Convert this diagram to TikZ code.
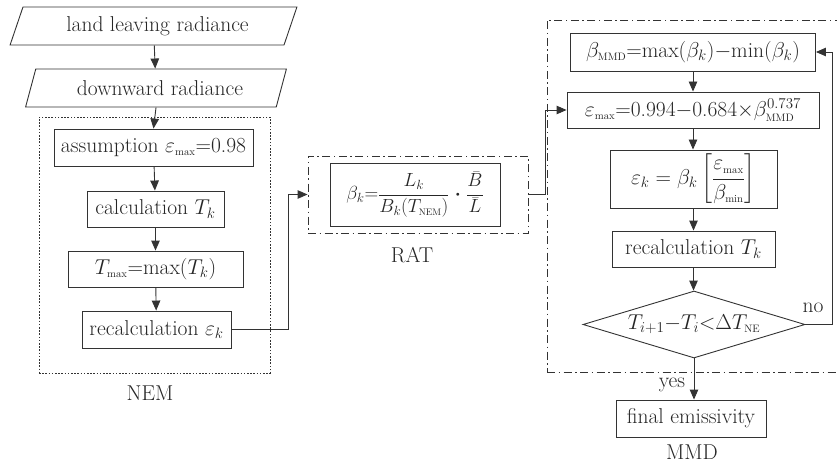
\RequirePackage{fix-cm}
\documentclass[tikz,border=0pt]{standalone}
\usepackage{amsmath}
\usepackage{fontspec}
\usetikzlibrary{shapes.geometric,arrows.meta}
\newcommand{\lsub}[1]{_{\scriptscriptstyle\mathrm{#1}}}
\begin{document}
\begin{tikzpicture}[x=1pt,y=-1pt,
  every node/.style={font=\fontsize{21.5}{25}\selectfont, text=black!85},
  line/.style={draw=black!80, line width=0.9pt},
  arr/.style={line, -{Triangle[length=10pt,width=8.5pt]}},
  box/.style={rectangle, draw=black!80, line width=0.9pt, inner sep=0pt},
  para/.style={trapezium, trapezium left angle=64, trapezium right angle=116,
     trapezium stretches=true, draw=black!80, line width=0.9pt, inner sep=0pt},
  dec/.style={diamond, draw=black!80, line width=0.9pt, inner sep=0pt, aspect=3.3},
  dotframe/.style={rectangle, draw=black!80, line width=0.8pt, dash pattern=on 1.6pt off 1.6pt, inner sep=0pt},
  dashdotframe/.style={rectangle, draw=black!80, line width=0.9pt, dash pattern=on 8pt off 3.5pt on 1.5pt off 3.5pt, inner sep=0pt},
  lbl/.style={inner sep=0pt}
]
\useasboundingbox (0,0) rectangle (837,465);

% left column
\node[para, minimum width=287, minimum height=38] (land) at (153.5,26) {\hspace*{8pt}land leaving radiance};
\node[para, minimum width=261, minimum height=38] (down) at (156,88) {\hspace*{8pt}downward radiance};
\node[dotframe, minimum width=231, minimum height=256] (nem) at (154.5,245) {};
\node[box, minimum width=199, minimum height=37] (assum) at (153.5,147.5) {assumption $\varepsilon\lsub{max}$=0.98};
\node[box, minimum width=137, minimum height=36] (calc) at (155.5,209) {calculation $T_k$};
\node[box, minimum width=175, minimum height=36] (tmax) at (155.5,269) {$T\lsub{max}$=max($T_k$)};
\node[box, minimum width=149, minimum height=37] (reeps) at (156.5,329.5) {recalculation $\varepsilon_k$};
\node[lbl] (nemlbl) at (150,393) {NEM};

% RAT
\node[dashdotframe, minimum width=220, minimum height=77] (rat) at (418,194.5) {};
\node[box, minimum width=170, minimum height=63, font=\fontsize{19}{23}\selectfont] (ratf) at (415,194.5)
  {$\beta_k{=}\dfrac{L_k}{B_k(T\lsub{NEM})}\;{\boldsymbol\cdot}\;\dfrac{\bar B}{\bar L}$};
\node[lbl] (ratlbl) at (412,255) {RAT};

% MMD
\node[dashdotframe, minimum width=310, minimum height=352] (mmd) at (702,196) {};
\node[box, minimum width=245, minimum height=38] (bmmd) at (693,52) {$\beta\lsub{MMD}$=max($\beta_k$)$-$min($\beta_k$)};
\node[box, minimum width=252, minimum height=36] (emax) at (693,110) {$\varepsilon\lsub{max}$=0.994$-$0.684$\times\beta\lsub{MMD}^{0.737}$};
\node[box, minimum width=167, minimum height=58] (epsk) at (693.5,179) {$\varepsilon_k=\beta_k\left[\dfrac{\varepsilon\lsub{max}}{\beta\lsub{min}}\right]$};
\node[box, minimum width=163, minimum height=36] (recT) at (693.5,249) {recalculation $T_k$};
\node[dec, minimum width=222, minimum height=67] (dia) at (694,324.5) {$T_{i+1}{-}T_i{<}\Delta T\lsub{NE}$};
\node[box, minimum width=150, minimum height=37] (final) at (691,418.5) {final emissivity};
\node[lbl] (mmdlbl) at (692,452) {MMD};
\node[lbl] (nolbl) at (813,308) {no};
\node[lbl] (yeslbl) at (672,385) {yes};

\coordinate (c1) at (288,329.5);
\coordinate (c2) at (288,194.5);
\coordinate (c3) at (545,194.5);
\coordinate (c4) at (545,110);
\coordinate (c5) at (832,324.5);
\coordinate (c6) at (832,52);

% arrows
\draw[arr] (land) -- (down);
\draw[arr] (down.south) -- ([yshift=0pt]assum.north);
\draw[arr] (assum) -- (calc);
\draw[arr] (calc) -- (tmax);
\draw[arr] (tmax) -- (reeps);
\draw[arr] (reeps.east) -- (c1) -- (c2) -- (rat.west);
\draw[arr] (rat.east) -- (c3) -- (c4) -- (emax.west);
\draw[arr] (bmmd.south -| emax.north) -- (emax.north);
\draw[arr] (emax.south) -- (emax.south |- epsk.north);
\draw[arr] (epsk.south) -- (epsk.south |- recT.north);
\draw[arr] (recT.south) -- (recT.south |- dia.north);
\draw[arr] (dia.south) -- (dia.south |- final.north);
\draw[arr] (dia.east) -- (c5) -- (c6) -- (bmmd.east);
\end{tikzpicture}
\end{document}
